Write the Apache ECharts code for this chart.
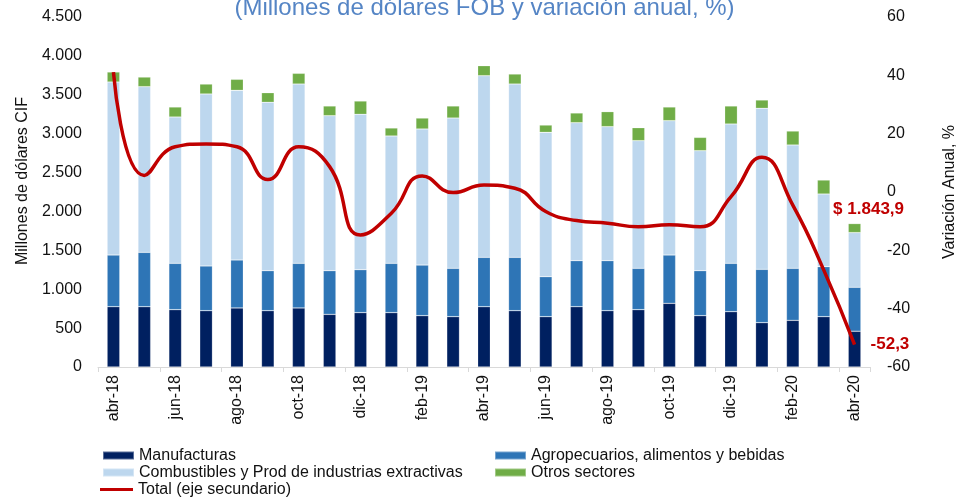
<!DOCTYPE html>
<html>
<head>
<meta charset="utf-8">
<script src="https://cdn.jsdelivr.net/npm/echarts@6/dist/echarts.min.js"></script>
<style>html,body{margin:0;padding:0;background:#fff}#c{width:969px;height:500px}</style>
</head>
<body>
<div id="c"></div>
<script>
const months = ['abr-18','may-18','jun-18','jul-18','ago-18','sep-18','oct-18','nov-18','dic-18','ene-19','feb-19','mar-19','abr-19','may-19','jun-19','jul-19','ago-19','sep-19','oct-19','nov-19','dic-19','ene-20','feb-20','mar-20','abr-20'];
const manufacturas = [775,775,737,724,759,724,759,677,699,699,660,647,775,724,647,775,724,737,819,660,711,570,600,647,460];
const agropecuarios = [665,699,596,575,617,514,574,561,552,634,651,622,635,686,514,592,643,532,621,578,622,686,669,643,565];
const combustibles = [2224,2130,1881,2211,2181,2165,2305,1993,1998,1637,1749,1932,2335,2228,1856,1774,1723,1641,1727,1543,1791,2070,1585,934,703];
const otros = [129,124,129,128,142,124,138,125,171,103,141,155,129,129,94,125,193,167,176,171,232,107,180,180,116];
const variacionTotal = [41.1,5.7,15.5,16.5,15.5,4.3,15.5,8.7,-14.7,-7.3,5.5,-0.2,2.4,1.3,-6.7,-9.8,-10.7,-11.9,-11.2,-11.9,-1.6,11.9,-4.5,-26.7,-52.3];
const totalUltimo = 1843.9;
const leftTicks = [0,500,1000,1500,2000,2500,3000,3500,4000,4500];
const rightTicks = [-60,-40,-20,0,20,40,60];

const FONT = 'Liberation Sans, Arial, sans-serif';
function fmtThousands(v){ return String(v).replace(/\B(?=(\d{3})+(?!\d))/g,'.'); }
function fmtDec(v){
  const parts = v.toFixed(1).split('.');
  return fmtThousands(parts[0]) + ',' + parts[1];
}

const names = ['Manufacturas','Agropecuarios, alimentos y bebidas','Combustibles y Prod de industrias extractivas','Otros sectores','Total (eje secundario)'];
const colors = ['#002060','#2E75B6','#BDD7EE','#70AD47','#C00000'];

const otrosData = otros.map((v,i)=> i===otros.length-1 ? {
  value:v,
  label:{show:true,position:'top',offset:[14,-1],formatter:'$ '+fmtDec(totalUltimo),
    color:'#C00000',fontWeight:'bold',fontSize:17,fontFamily:FONT}
} : v);

function barSeries(name,data,color){
  return {name:name,type:'bar',stack:'t',data:data,barWidth:'41%',
    itemStyle:{color:color,borderColor:'rgba(255,255,255,0.35)',borderWidth:0.6},
    emphasis:{disabled:true}};
}

const legendText = {fontSize:16,fontFamily:FONT,color:'#111',lineHeight:17};
const chart = echarts.init(document.getElementById('c'),null,{renderer:'canvas'});
chart.setOption({
  animation:false,
  backgroundColor:'#fff',
  title:{text:'(Millones de dólares FOB y variación anual, %)',left:'center',top:-9,
    textStyle:{color:'#5585C5',fontSize:24,fontWeight:'normal',fontFamily:FONT}},
  grid:{left:98,right:99,top:17,bottom:133,containLabel:false},
  legend:[
    {data:[names[0],names[2]],orient:'vertical',left:102,top:447,padding:0,itemWidth:31,itemHeight:8,itemGap:0,icon:'rect',
     textStyle:legendText,selectedMode:false},
    {data:[names[1],names[3]],orient:'vertical',left:494,top:447,padding:0,itemWidth:31,itemHeight:8,itemGap:0,icon:'rect',
     textStyle:legendText,selectedMode:false},
    {data:[names[4]],orient:'vertical',left:100,top:481,padding:0,itemWidth:33,itemHeight:3,icon:'rect',
     textStyle:legendText,selectedMode:false}
  ],
  xAxis:{type:'category',data:months,boundaryGap:true,
    axisLine:{lineStyle:{color:'#D9D9D9',width:1}},
    axisTick:{show:true,interval:1,length:5,lineStyle:{color:'#D9D9D9'}},
    axisLabel:{interval:1,rotate:90,margin:8,fontSize:16,color:'#111',fontFamily:FONT}},
  yAxis:[
    {type:'value',min:leftTicks[0],max:leftTicks[leftTicks.length-1],interval:500,
     name:'Millones de dólares CIF',nameLocation:'middle',nameGap:64,nameRotate:90,
     nameTextStyle:{fontSize:16,color:'#111',fontFamily:FONT,padding:[0,0,0,22]},
     axisLine:{show:false},axisTick:{show:false},splitLine:{show:false},
     axisLabel:{margin:16,fontSize:16,color:'#111',fontFamily:FONT,formatter:v=>fmtThousands(v)}},
    {type:'value',min:rightTicks[0],max:rightTicks[rightTicks.length-1],interval:20,
     name:'Variación Anual, %',nameLocation:'middle',nameGap:72,nameRotate:90,
     nameTextStyle:{fontSize:16,color:'#111',fontFamily:FONT},
     axisLine:{show:false},axisTick:{show:false},splitLine:{show:false},
     axisLabel:{margin:17,fontSize:16,color:'#111',fontFamily:FONT,align:'left'}}
  ],
  series:[
    barSeries(names[0],manufacturas,colors[0]),
    barSeries(names[1],agropecuarios,colors[1]),
    barSeries(names[2],combustibles,colors[2]),
    barSeries(names[3],otrosData,colors[3]),
    {name:names[4],type:'line',yAxisIndex:1,data:variacionTotal,smooth:0.5,symbol:'none',
     lineStyle:{color:'#C00000',width:3.5},itemStyle:{color:'#C00000'},z:5,
     endLabel:{show:true,distance:16,formatter:p=>fmtDec(p.value),color:'#C00000',fontWeight:'bold',fontSize:17,fontFamily:FONT},
     emphasis:{disabled:true}}
  ]
});
</script>
</body>
</html>
